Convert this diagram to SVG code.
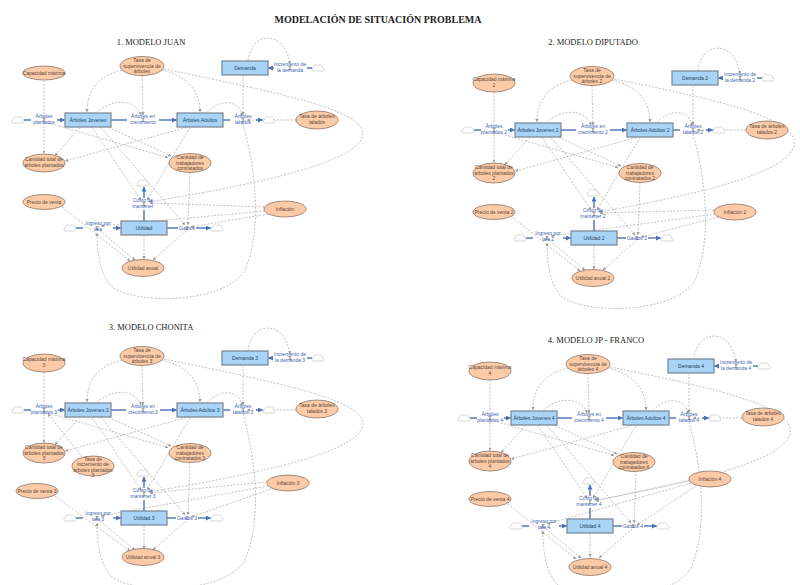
<svg xmlns="http://www.w3.org/2000/svg" xmlns:xlink="http://www.w3.org/1999/xlink" width="800" height="585" viewBox="0 0 800 585">
<style>
.t{font-family:"Liberation Sans","DejaVu Sans",sans-serif;font-size:5px;text-anchor:middle}
.ttl{font-family:"Liberation Serif","DejaVu Serif",serif;text-anchor:middle;fill:#222}
.aux ellipse{fill:#FBCBA8;stroke:#8E7566;stroke-width:0.8}
.aux text{fill:#5E4536}
.stock rect{fill:#A8D5F7;stroke:#78848F;stroke-width:1.2}
.stock text{fill:#233E5C}
.flow text{fill:#3D5FAE}
.fl{stroke:#4D70B8;stroke-width:1.4;fill:none}
.fa{marker-end:url(#fa)}
.cn path{fill:none;stroke:#A8A8A8;stroke-width:0.7;stroke-dasharray:2 1.5;marker-end:url(#ca)}
</style>
<defs>
<marker id="fa" viewBox="0 0 10 10" refX="9" refY="5" markerWidth="5" markerHeight="5" markerUnits="userSpaceOnUse" orient="auto"><path d="M0,0 L10,5 L0,10 z" fill="#4D70B8"/></marker>
<marker id="ca" viewBox="0 0 10 10" refX="9" refY="5" markerWidth="3.2" markerHeight="3.2" markerUnits="userSpaceOnUse" orient="auto"><path d="M0,0 L10,5 L0,10 z" fill="#999"/></marker>
<path id="cloud" d="M-4.5,3 C-6.5,3 -6.8,0 -4.6,-0.4 C-4.8,-3 -1.5,-4.2 0,-2.2 C1.2,-4 4.6,-3.4 4.4,-0.5 C6.6,-0.2 6.4,3 4.4,3 Z" fill="#fff" stroke="#C4C4C4" stroke-width="0.7"/>
<path id="valve" d="M-2,-1.8 L2,-1.8 L-2,1.8 L2,1.8 Z" fill="#8C8C8C"/>
</defs>
<rect width="800" height="585" fill="#fff"/>
<text class="ttl" x="378" y="23" font-size="10" font-weight="bold">MODELACIÓN DE SITUACIÓN PROBLEMA</text>
<text class="ttl" x="151" y="45" font-size="8.5">1. MODELO JUAN</text>
<text class="ttl" x="593" y="45" font-size="8.5">2. MODELO DIPUTADO</text>
<text class="ttl" x="151" y="330" font-size="8.5">3. MODELO CHONITA</text>
<text class="ttl" x="596" y="343" font-size="8.5">4. MODELO JP - FRANCO</text>

<!-- ================= PANEL 1 ================= -->
<g id="p1" transform="translate(0,0)">
<g id="p1-connectors" class="cn">
<path d="M44,80.5 L44,153.5"/>
<path d="M122,70 C98,76 87,90 87,112"/>
<path d="M142,75.5 L143,115"/>
<path d="M162,70 C188,76 200,92 200,112"/>
<path d="M164,69 C290,95 372,112 362,138 C352,162 270,182 149,202"/>
<path d="M97,112.5 C110,99 135,98 141,115"/>
<path d="M207,112.5 C220,98 240,100 242,116"/>
<path d="M243,75.5 L243,115"/>
<path d="M248,60.5 C252,30 285,30 290,64"/>
<path d="M243,124 C256,170 262,230 245,270 C225,305 130,305 110,285 C100,272 97,255 97,233"/>
<path d="M296,120 L247,120"/>
<path d="M48,123 L168,157.5"/>
<path d="M80,127.5 L55,155.5"/>
<path d="M186,127.5 L65.5,161"/>
<path d="M92,127.5 L141,200"/>
<path d="M101,127.5 L185,225"/>
<path d="M109,127.5 L171,156"/>
<path d="M190,127.5 L147,200"/>
<path d="M190,172.5 L188,225"/>
<path d="M264,207 L150,203"/>
<path d="M265,211 L101,226"/>
<path d="M268,214 L191,227"/>
<path d="M62,207 L130,261"/>
<path d="M100,231 L135,260"/>
<path d="M144,235.5 L144,259"/>
<path d="M186,231 L153,260"/>
</g>
<g id="p1-flows">
<use href="#cloud" x="18" y="120"/><use href="#cloud" x="269" y="120"/><use href="#cloud" x="318" y="68"/><use href="#cloud" x="143" y="183"/><use href="#cloud" x="70" y="228"/><use href="#cloud" x="217" y="228"/>
<path class="fl" d="M24,120 L31,120"/><path class="fl fa" d="M57,120 L64.5,120"/>
<path class="fl" d="M111,120 L127,120"/><path class="fl fa" d="M159,120 L176.5,120"/>
<path class="fl" d="M223,120 L230,120"/><path class="fl fa" d="M256,120 L262.5,120"/>
<path class="fl" d="M312,68 L307,68"/><path class="fl fa" d="M274,68 L268.5,68"/>
<path class="fl" d="M144,221 L144,210"/><path class="fl fa" d="M144,198 L144,187"/>
<path class="fl" d="M76,228 L83,228"/><path class="fl fa" d="M113,228 L120.5,228"/>
<path class="fl" d="M167,228 L178,228"/><path class="fl fa" d="M196,228 L210.5,228"/>
</g>
<g id="p1-capacidad-maxima" class="aux"><ellipse cx="44" cy="73" rx="21" ry="7"/><text class="t" x="44" y="74.8">Capacidad máxima</text></g>
<g id="p1-tasa-supervivencia" class="aux"><ellipse cx="142" cy="66" rx="22" ry="9.5"/><text class="t" x="142" y="62.3"><tspan x="142">Tasa de</tspan><tspan x="142" dy="5.5">supervivencia de</tspan><tspan x="142" dy="5.5">árboles</tspan></text></g>
<g id="p1-demanda" class="stock"><rect x="222" y="61" width="46" height="14"/><text class="t" x="245" y="69.8">Demanda</text></g>
<g id="p1-incremento-demanda" class="flow"><use href="#valve" x="290" y="68"/><text class="t" x="290" y="66"><tspan x="290">Incremento de</tspan><tspan x="290" dy="5.5">la demanda</tspan></text></g>
<g id="p1-arboles-plantados" class="flow"><use href="#valve" x="44" y="120"/><text class="t" x="44" y="118"><tspan x="44">Árboles</tspan><tspan x="44" dy="5.5">plantados</tspan></text></g>
<g id="p1-arboles-jovenes" class="stock"><rect x="65" y="113" width="46" height="14"/><text class="t" x="88" y="121.8">Árboles Jovenes</text></g>
<g id="p1-arboles-crecimiento" class="flow"><use href="#valve" x="143" y="120"/><text class="t" x="143" y="118"><tspan x="143">Árboles en</tspan><tspan x="143" dy="5.5">crecimiento</tspan></text></g>
<g id="p1-arboles-adultos" class="stock"><rect x="177" y="113" width="46" height="14"/><text class="t" x="200" y="121.8">Árboles Adultos</text></g>
<g id="p1-arboles-talados" class="flow"><use href="#valve" x="243" y="120"/><text class="t" x="243" y="118"><tspan x="243">Árboles</tspan><tspan x="243" dy="5.5">talados</tspan></text></g>
<g id="p1-tasa-talados" class="aux"><ellipse cx="317" cy="120" rx="21" ry="9"/><text class="t" x="317" y="118"><tspan x="317">Tasa de árboles</tspan><tspan x="317" dy="5.5">talados</tspan></text></g>
<g id="p1-cantidad-total" class="aux"><ellipse cx="44" cy="163" rx="21" ry="9"/><text class="t" x="44" y="161"><tspan x="44">Cantidad total de</tspan><tspan x="44" dy="5.5">árboles plantados</tspan></text></g>
<g id="p1-cantidad-trabajadores" class="aux"><ellipse cx="190" cy="163" rx="21" ry="9.5"/><text class="t" x="190" y="159.3"><tspan x="190">Cantidad de</tspan><tspan x="190" dy="5.5">trabajadores</tspan><tspan x="190" dy="5.5">contratados</tspan></text></g>
<g id="p1-costo-mantener" class="flow"><use href="#valve" x="144" y="204"/><text class="t" x="143" y="202"><tspan x="143">Costo de</tspan><tspan x="143" dy="5.5">mantener</tspan></text></g>
<g id="p1-precio-venta" class="aux"><ellipse cx="44" cy="202" rx="21" ry="7.5"/><text class="t" x="44" y="203.8">Precio de venta</text></g>
<g id="p1-inflacion" class="aux"><ellipse cx="285" cy="209" rx="21" ry="8"/><text class="t" x="285" y="210.8">Inflación</text></g>
<g id="p1-ingreso-tala" class="flow"><use href="#valve" x="97" y="228"/><text class="t" x="98" y="225"><tspan x="98">Ingreso por</tspan><tspan x="98" dy="5.5">tala</tspan></text></g>
<g id="p1-utilidad" class="stock"><rect x="121" y="221" width="46" height="14"/><text class="t" x="144" y="229.8">Utilidad</text></g>
<g id="p1-gastos" class="flow"><use href="#valve" x="187" y="228"/><text class="t" x="187" y="229.8">Gastos</text></g>
<g id="p1-utilidad-anual" class="aux"><ellipse cx="143" cy="268" rx="21" ry="8.5"/><text class="t" x="143" y="269.8">Utilidad anual</text></g>
</g>

<!-- ================= PANEL 2 ================= -->
<g id="p2" transform="translate(450,10)">
<g id="p2-connectors" class="cn">
<path d="M44,82 L44,152.5"/>
<path d="M122,70 C98,76 87,90 87,112"/>
<path d="M142,75.5 L143,115"/>
<path d="M162,70 C188,76 200,92 200,112"/>
<path d="M164,69 C280,92 350,110 344,136 C338,160 265,182 149,202"/>
<path d="M97,112.5 C110,99 135,98 141,115"/>
<path d="M207,112.5 C220,98 240,100 242,116"/>
<path d="M243,75.5 L243,115"/>
<path d="M248,60.5 C252,30 285,30 290,64"/>
<path d="M243,124 C256,170 262,230 245,270 C225,305 130,305 110,285 C100,272 97,255 97,233"/>
<path d="M296,120 L247,120"/>
<path d="M48,123 L168,157.5"/>
<path d="M80,127.5 L55,154.5"/>
<path d="M186,127.5 L65.5,161"/>
<path d="M92,127.5 L141,200"/>
<path d="M101,127.5 L185,225"/>
<path d="M109,127.5 L171,156"/>
<path d="M190,127.5 L147,200"/>
<path d="M190,172.5 L188,225"/>
<path d="M264,200 L150,203"/>
<path d="M265,204 L101,226"/>
<path d="M268,207 L191,227"/>
<path d="M62,207 L130,261"/>
<path d="M100,231 L135,260"/>
<path d="M144,235.5 L144,259"/>
<path d="M186,231 L153,260"/>
</g>
<g id="p2-flows">
<use href="#cloud" x="18" y="120"/><use href="#cloud" x="269" y="120"/><use href="#cloud" x="318" y="68"/><use href="#cloud" x="143" y="183"/><use href="#cloud" x="70" y="228"/><use href="#cloud" x="217" y="228"/>
<path class="fl" d="M24,120 L31,120"/><path class="fl fa" d="M58,120 L64.5,120"/>
<path class="fl" d="M111,120 L126,120"/><path class="fl fa" d="M160,120 L176.5,120"/>
<path class="fl" d="M223,120 L230,120"/><path class="fl fa" d="M256,120 L262.5,120"/>
<path class="fl" d="M312,68 L307,68"/><path class="fl fa" d="M273,68 L268.5,68"/>
<path class="fl" d="M144,221 L144,210"/><path class="fl fa" d="M144,198 L144,187"/>
<path class="fl" d="M76,228 L83,228"/><path class="fl fa" d="M113,228 L120.5,228"/>
<path class="fl" d="M167,228 L176,228"/><path class="fl fa" d="M198,228 L210.5,228"/>
</g>
<g id="p2-capacidad-maxima" class="aux"><ellipse cx="44" cy="73" rx="21" ry="9"/><text class="t" x="44" y="71"><tspan x="44">Capacidad máxima</tspan><tspan x="44" dy="5.5">2</tspan></text></g>
<g id="p2-tasa-supervivencia" class="aux"><ellipse cx="142" cy="66" rx="22" ry="9.5"/><text class="t" x="142" y="62.3"><tspan x="142">Tasa de</tspan><tspan x="142" dy="5.5">supervivencia de</tspan><tspan x="142" dy="5.5">árboles 2</tspan></text></g>
<g id="p2-demanda" class="stock"><rect x="222" y="61" width="46" height="14"/><text class="t" x="245" y="69.8">Demanda 2</text></g>
<g id="p2-incremento-demanda" class="flow"><use href="#valve" x="290" y="68"/><text class="t" x="290" y="66"><tspan x="290">Incremento de</tspan><tspan x="290" dy="5.5">la demanda 2</tspan></text></g>
<g id="p2-arboles-plantados" class="flow"><use href="#valve" x="44" y="120"/><text class="t" x="44" y="118"><tspan x="44">Árboles</tspan><tspan x="44" dy="5.5">plantados 2</tspan></text></g>
<g id="p2-arboles-jovenes" class="stock"><rect x="65" y="113" width="46" height="14"/><text class="t" x="88" y="121.8">Árboles Jovenes 2</text></g>
<g id="p2-arboles-crecimiento" class="flow"><use href="#valve" x="143" y="120"/><text class="t" x="143" y="118"><tspan x="143">Árboles en</tspan><tspan x="143" dy="5.5">crecimiento 2</tspan></text></g>
<g id="p2-arboles-adultos" class="stock"><rect x="177" y="113" width="46" height="14"/><text class="t" x="200" y="121.8">Árboles Adultos 2</text></g>
<g id="p2-arboles-talados" class="flow"><use href="#valve" x="243" y="120"/><text class="t" x="243" y="118"><tspan x="243">Árboles</tspan><tspan x="243" dy="5.5">talados 2</tspan></text></g>
<g id="p2-tasa-talados" class="aux"><ellipse cx="317" cy="120" rx="21" ry="9"/><text class="t" x="317" y="118"><tspan x="317">Tasa de árboles</tspan><tspan x="317" dy="5.5">talados 2</tspan></text></g>
<g id="p2-cantidad-total" class="aux"><ellipse cx="44" cy="163" rx="21" ry="10"/><text class="t" x="44" y="159.3"><tspan x="44">Cantidad total de</tspan><tspan x="44" dy="5.5">árboles plantados</tspan><tspan x="44" dy="5.5">2</tspan></text></g>
<g id="p2-cantidad-trabajadores" class="aux"><ellipse cx="190" cy="163" rx="21" ry="9.5"/><text class="t" x="190" y="159.3"><tspan x="190">Cantidad de</tspan><tspan x="190" dy="5.5">trabajadores</tspan><tspan x="190" dy="5.5">contratados 2</tspan></text></g>
<g id="p2-costo-mantener" class="flow"><use href="#valve" x="144" y="204"/><text class="t" x="143" y="202"><tspan x="143">Costo de</tspan><tspan x="143" dy="5.5">mantener 2</tspan></text></g>
<g id="p2-precio-venta" class="aux"><ellipse cx="44" cy="202" rx="21" ry="7.5"/><text class="t" x="44" y="203.8">Precio de venta 2</text></g>
<g id="p2-inflacion" class="aux"><ellipse cx="285" cy="202" rx="21" ry="8"/><text class="t" x="285" y="203.8">Inflación 2</text></g>
<g id="p2-ingreso-tala" class="flow"><use href="#valve" x="97" y="228"/><text class="t" x="98" y="225"><tspan x="98">Ingreso por</tspan><tspan x="98" dy="5.5">tala 2</tspan></text></g>
<g id="p2-utilidad" class="stock"><rect x="121" y="221" width="46" height="14"/><text class="t" x="144" y="229.8">Utilidad 2</text></g>
<g id="p2-gastos" class="flow"><use href="#valve" x="187" y="228"/><text class="t" x="187" y="229.8">Gastos 2</text></g>
<g id="p2-utilidad-anual" class="aux"><ellipse cx="143" cy="268" rx="21" ry="8.5"/><text class="t" x="143" y="269.8">Utilidad anual 2</text></g>
</g>

<!-- ================= PANEL 3 ================= -->
<g id="p3" transform="translate(0,290)">
<g id="p3-connectors" class="cn">
<path d="M44,82 L44,152.5"/>
<path d="M122,70 C98,76 87,90 87,112"/>
<path d="M142,75.5 L143,115"/>
<path d="M162,70 C188,76 200,92 200,112"/>
<path d="M164,69 C290,95 372,112 362,138 C352,162 270,182 149,202"/>
<path d="M97,112.5 C110,99 135,98 141,115"/>
<path d="M207,112.5 C220,98 240,100 242,116"/>
<path d="M243,75.5 L243,115"/>
<path d="M248,60.5 C252,30 285,30 290,64"/>
<path d="M243,124 C256,170 262,230 245,270 C225,305 130,305 110,285 C100,272 97,255 97,233"/>
<path d="M296,120 L247,120"/>
<path d="M48,123 L168,157.5"/>
<path d="M80,127.5 L55,154.5"/>
<path d="M186,127.5 L65.5,161"/>
<path d="M92,127.5 L141,200"/>
<path d="M101,127.5 L185,225"/>
<path d="M109,127.5 L171,156"/>
<path d="M190,127.5 L147,200"/>
<path d="M190,172.5 L188,225"/>
<path d="M267,192 L150,203"/>
<path d="M268,196 L101,226"/>
<path d="M271,199 L191,227"/>
<path d="M55,206 L130,261"/>
<path d="M100,231 L135,260"/>
<path d="M144,235.5 L144,259"/>
<path d="M186,231 L153,260"/>
<path d="M82,167 L48,124"/>
</g>
<g id="p3-flows">
<use href="#cloud" x="18" y="120"/><use href="#cloud" x="269" y="120"/><use href="#cloud" x="318" y="68"/><use href="#cloud" x="143" y="183"/><use href="#cloud" x="70" y="228"/><use href="#cloud" x="217" y="228"/>
<path class="fl" d="M24,120 L31,120"/><path class="fl fa" d="M58,120 L64.5,120"/>
<path class="fl" d="M111,120 L126,120"/><path class="fl fa" d="M160,120 L176.5,120"/>
<path class="fl" d="M223,120 L230,120"/><path class="fl fa" d="M256,120 L262.5,120"/>
<path class="fl" d="M312,68 L307,68"/><path class="fl fa" d="M273,68 L268.5,68"/>
<path class="fl" d="M144,221 L144,210"/><path class="fl fa" d="M144,198 L144,187"/>
<path class="fl" d="M76,228 L83,228"/><path class="fl fa" d="M113,228 L120.5,228"/>
<path class="fl" d="M167,228 L176,228"/><path class="fl fa" d="M198,228 L210.5,228"/>
</g>
<g id="p3-capacidad-maxima" class="aux"><ellipse cx="44" cy="73" rx="21" ry="9"/><text class="t" x="44" y="71"><tspan x="44">Capacidad máxima</tspan><tspan x="44" dy="5.5">3</tspan></text></g>
<g id="p3-tasa-supervivencia" class="aux"><ellipse cx="142" cy="66" rx="22" ry="9.5"/><text class="t" x="142" y="62.3"><tspan x="142">Tasa de</tspan><tspan x="142" dy="5.5">supervivencia de</tspan><tspan x="142" dy="5.5">árboles 3</tspan></text></g>
<g id="p3-demanda" class="stock"><rect x="222" y="61" width="46" height="14"/><text class="t" x="245" y="69.8">Demanda 3</text></g>
<g id="p3-incremento-demanda" class="flow"><use href="#valve" x="290" y="68"/><text class="t" x="290" y="66"><tspan x="290">Incremento de</tspan><tspan x="290" dy="5.5">la demanda 3</tspan></text></g>
<g id="p3-arboles-plantados" class="flow"><use href="#valve" x="44" y="120"/><text class="t" x="44" y="118"><tspan x="44">Árboles</tspan><tspan x="44" dy="5.5">plantados 3</tspan></text></g>
<g id="p3-arboles-jovenes" class="stock"><rect x="65" y="113" width="46" height="14"/><text class="t" x="88" y="121.8">Árboles Jovenes 3</text></g>
<g id="p3-arboles-crecimiento" class="flow"><use href="#valve" x="143" y="120"/><text class="t" x="143" y="118"><tspan x="143">Árboles en</tspan><tspan x="143" dy="5.5">crecimiento 3</tspan></text></g>
<g id="p3-arboles-adultos" class="stock"><rect x="177" y="113" width="46" height="14"/><text class="t" x="200" y="121.8">Árboles Adultos 3</text></g>
<g id="p3-arboles-talados" class="flow"><use href="#valve" x="243" y="120"/><text class="t" x="243" y="118"><tspan x="243">Árboles</tspan><tspan x="243" dy="5.5">talados 3</tspan></text></g>
<g id="p3-tasa-talados" class="aux"><ellipse cx="317" cy="119" rx="21" ry="9"/><text class="t" x="317" y="117"><tspan x="317">Tasa de árboles</tspan><tspan x="317" dy="5.5">talados 3</tspan></text></g>
<g id="p3-cantidad-total" class="aux"><ellipse cx="44" cy="163" rx="21" ry="10"/><text class="t" x="44" y="159.3"><tspan x="44">Cantidad total de</tspan><tspan x="44" dy="5.5">árboles plantados</tspan><tspan x="44" dy="5.5">3</tspan></text></g>
<g id="p3-tasa-incremento" class="aux"><ellipse cx="93" cy="176" rx="21" ry="10"/><text class="t" x="93" y="170.5"><tspan x="93">Tasa de</tspan><tspan x="93" dy="5.5">incremento de</tspan><tspan x="93" dy="5.5">árboles plantados</tspan><tspan x="93" dy="5.5">3</tspan></text></g>
<g id="p3-cantidad-trabajadores" class="aux"><ellipse cx="190" cy="163" rx="21" ry="9.5"/><text class="t" x="190" y="159.3"><tspan x="190">Cantidad de</tspan><tspan x="190" dy="5.5">trabajadores</tspan><tspan x="190" dy="5.5">contratados 3</tspan></text></g>
<g id="p3-costo-mantener" class="flow"><use href="#valve" x="144" y="204"/><text class="t" x="143" y="202"><tspan x="143">Costo de</tspan><tspan x="143" dy="5.5">mantener 3</tspan></text></g>
<g id="p3-precio-venta" class="aux"><ellipse cx="37" cy="201" rx="21" ry="7.5"/><text class="t" x="37" y="202.8">Precio de venta 3</text></g>
<g id="p3-inflacion" class="aux"><ellipse cx="288" cy="193" rx="21" ry="8"/><text class="t" x="288" y="194.8">Inflación 3</text></g>
<g id="p3-ingreso-tala" class="flow"><use href="#valve" x="97" y="228"/><text class="t" x="98" y="225"><tspan x="98">Ingreso por</tspan><tspan x="98" dy="5.5">tala 3</tspan></text></g>
<g id="p3-utilidad" class="stock"><rect x="121" y="221" width="46" height="14"/><text class="t" x="144" y="229.8">Utilidad 3</text></g>
<g id="p3-gastos" class="flow"><use href="#valve" x="187" y="228"/><text class="t" x="187" y="229.8">Gastos 3</text></g>
<g id="p3-utilidad-anual" class="aux"><ellipse cx="143" cy="267" rx="21" ry="8.5"/><text class="t" x="143" y="268.8">Utilidad anual 3</text></g>
</g>

<!-- ================= PANEL 4 ================= -->
<g id="p4" transform="translate(446,298)">
<g id="p4-connectors" class="cn">
<path d="M44,82 L44,152.5"/>
<path d="M122,70 C98,76 87,90 87,112"/>
<path d="M142,75.5 L143,115"/>
<path d="M162,70 C188,76 200,92 200,112"/>
<path d="M164,69 C280,92 350,110 344,136 C338,160 265,182 149,202"/>
<path d="M97,112.5 C110,99 135,98 141,115"/>
<path d="M207,112.5 C220,98 240,100 242,116"/>
<path d="M243,75.5 L243,115"/>
<path d="M248,60.5 C252,30 285,30 290,64"/>
<path d="M243,124 C256,170 262,230 245,270 C225,305 130,305 110,285 C100,272 97,255 97,233"/>
<path d="M296,120 L247,120"/>
<path d="M48,123 L168,157.5"/>
<path d="M80,127.5 L55,154.5"/>
<path d="M186,127.5 L65.5,161"/>
<path d="M92,127.5 L141,200"/>
<path d="M101,127.5 L185,225"/>
<path d="M109,127.5 L171,156"/>
<path d="M190,127.5 L147,200"/>
<path d="M190,172.5 L188,225"/>
<path d="M244,182 L150,203"/>
<path d="M245,185 L101,226"/>
<path d="M250,188 L191,227"/>
<path d="M62,206 L130,261"/>
<path d="M100,231 L135,260"/>
<path d="M144,235.5 L144,259"/>
<path d="M186,231 L153,260"/>
</g>
<g id="p4-flows">
<use href="#cloud" x="18" y="120"/><use href="#cloud" x="269" y="120"/><use href="#cloud" x="318" y="68"/><use href="#cloud" x="143" y="183"/><use href="#cloud" x="70" y="228"/><use href="#cloud" x="217" y="228"/>
<path class="fl" d="M24,120 L31,120"/><path class="fl fa" d="M58,120 L64.5,120"/>
<path class="fl" d="M111,120 L126,120"/><path class="fl fa" d="M160,120 L176.5,120"/>
<path class="fl" d="M223,120 L230,120"/><path class="fl fa" d="M256,120 L262.5,120"/>
<path class="fl" d="M312,68 L307,68"/><path class="fl fa" d="M273,68 L268.5,68"/>
<path class="fl" d="M144,221 L144,210"/><path class="fl fa" d="M144,198 L144,187"/>
<path class="fl" d="M76,228 L83,228"/><path class="fl fa" d="M113,228 L120.5,228"/>
<path class="fl" d="M167,228 L176,228"/><path class="fl fa" d="M198,228 L210.5,228"/>
</g>
<g id="p4-capacidad-maxima" class="aux"><ellipse cx="44" cy="73" rx="21" ry="9"/><text class="t" x="44" y="71"><tspan x="44">Capacidad máxima</tspan><tspan x="44" dy="5.5">4</tspan></text></g>
<g id="p4-tasa-supervivencia" class="aux"><ellipse cx="142" cy="66" rx="22" ry="9.5"/><text class="t" x="142" y="62.3"><tspan x="142">Tasa de</tspan><tspan x="142" dy="5.5">supervivencia de</tspan><tspan x="142" dy="5.5">árboles 4</tspan></text></g>
<g id="p4-demanda" class="stock"><rect x="222" y="61" width="46" height="14"/><text class="t" x="245" y="69.8">Demanda 4</text></g>
<g id="p4-incremento-demanda" class="flow"><use href="#valve" x="290" y="68"/><text class="t" x="290" y="66"><tspan x="290">Incremento de</tspan><tspan x="290" dy="5.5">la demanda 4</tspan></text></g>
<g id="p4-arboles-plantados" class="flow"><use href="#valve" x="44" y="120"/><text class="t" x="44" y="118"><tspan x="44">Árboles</tspan><tspan x="44" dy="5.5">plantados 4</tspan></text></g>
<g id="p4-arboles-jovenes" class="stock"><rect x="65" y="113" width="46" height="14"/><text class="t" x="88" y="121.8">Árboles Jovenes 4</text></g>
<g id="p4-arboles-crecimiento" class="flow"><use href="#valve" x="143" y="120"/><text class="t" x="143" y="118"><tspan x="143">Árboles en</tspan><tspan x="143" dy="5.5">crecimiento 4</tspan></text></g>
<g id="p4-arboles-adultos" class="stock"><rect x="177" y="113" width="46" height="14"/><text class="t" x="200" y="121.8">Árboles Adultos 4</text></g>
<g id="p4-arboles-talados" class="flow"><use href="#valve" x="243" y="120"/><text class="t" x="243" y="118"><tspan x="243">Árboles</tspan><tspan x="243" dy="5.5">talados 4</tspan></text></g>
<g id="p4-tasa-talados" class="aux"><ellipse cx="317" cy="119" rx="21" ry="9"/><text class="t" x="317" y="117"><tspan x="317">Tasa de árboles</tspan><tspan x="317" dy="5.5">talados 4</tspan></text></g>
<g id="p4-cantidad-total" class="aux"><ellipse cx="44" cy="163" rx="21" ry="10"/><text class="t" x="44" y="159.3"><tspan x="44">Cantidad total de</tspan><tspan x="44" dy="5.5">árboles plantados</tspan><tspan x="44" dy="5.5">4</tspan></text></g>
<g id="p4-cantidad-trabajadores" class="aux"><ellipse cx="188" cy="164" rx="21" ry="9.5"/><text class="t" x="188" y="160.3"><tspan x="188">Cantidad de</tspan><tspan x="188" dy="5.5">trabajadores</tspan><tspan x="188" dy="5.5">contratados 4</tspan></text></g>
<g id="p4-costo-mantener" class="flow"><use href="#valve" x="144" y="204"/><text class="t" x="143" y="202"><tspan x="143">Costo de</tspan><tspan x="143" dy="5.5">mantener 4</tspan></text></g>
<g id="p4-precio-venta" class="aux"><ellipse cx="44" cy="201" rx="21" ry="7.5"/><text class="t" x="44" y="202.8">Precio de venta 4</text></g>
<g id="p4-inflacion" class="aux"><ellipse cx="264" cy="181" rx="21" ry="8"/><text class="t" x="264" y="182.8">Inflación 4</text></g>
<g id="p4-ingreso-tala" class="flow"><use href="#valve" x="97" y="228"/><text class="t" x="98" y="225"><tspan x="98">Ingreso por</tspan><tspan x="98" dy="5.5">tala 4</tspan></text></g>
<g id="p4-utilidad" class="stock"><rect x="121" y="221" width="46" height="14"/><text class="t" x="144" y="229.8">Utilidad 4</text></g>
<g id="p4-gastos" class="flow"><use href="#valve" x="187" y="228"/><text class="t" x="187" y="229.8">Gastos 4</text></g>
<g id="p4-utilidad-anual" class="aux"><ellipse cx="144" cy="269" rx="21" ry="8.5"/><text class="t" x="144" y="270.8">Utilidad anual 4</text></g>
</g>
</svg>
